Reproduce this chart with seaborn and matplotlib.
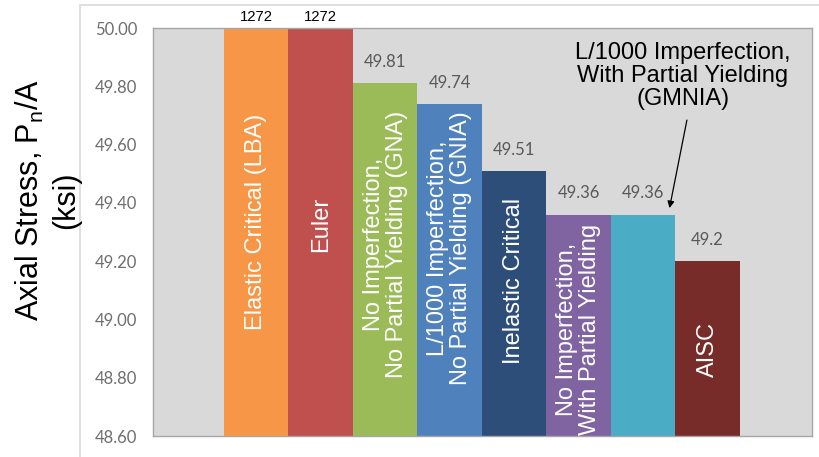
import matplotlib
matplotlib.use("Agg")
import matplotlib.pyplot as plt
import seaborn as sns
import pandas as pd
from matplotlib.patches import Rectangle

# ---- data -------------------------------------------------------------
methods = [
    "Elastic Critical (LBA)",
    "Euler",
    "No Imperfection,\nNo Partial Yielding (GNA)",
    "L/1000 Imperfection,\nNo Partial Yielding (GNIA)",
    "Inelastic Critical",
    "No Imperfection,\nWith Partial Yielding",
    "L/1000 Imperfection,\nWith Partial Yielding\n(GMNIA)",
    "AISC",
]
stress = [1272, 1272, 49.81, 49.74, 49.51, 49.36, 49.36, 49.2]
y_ticks = [48.60, 48.80, 49.00, 49.20, 49.40, 49.60, 49.80, 50.00]
y_label = "Axial Stress, P$_\\mathrm{n}$/A\n(ksi)"

# ---- styling ----------------------------------------------------------
colors = ["#F79646", "#C0504D", "#9BBB59", "#4F81BD",
          "#2E4E7A", "#8064A2", "#4BACC6", "#772C2A"]
# vertical centre of the white text written inside each bar (None -> callout)
inner_label_y = [49.336, 49.326, 49.259, 49.245, 49.133, 48.967, None, 48.898]
callout_text_xy = (6.62, 49.835)
callout_arrow_from = (6.68, 49.684)
callout_arrow_to = (6.41, 49.382)

sns.set_theme(style="white")
plt.rcParams["font.family"] = ["Liberation Sans", "DejaVu Sans"]
plt.rcParams["mathtext.fontset"] = "custom"
plt.rcParams["mathtext.rm"] = "Liberation Sans"
plt.rcParams["mathtext.it"] = "Liberation Sans:italic"

df = pd.DataFrame({"method": methods, "stress": stress})

fig = plt.figure(figsize=(8.19, 4.57), dpi=100)
fig.patch.set_facecolor("white")

# light outer frame around the chart object
fig.add_artist(Rectangle((80 / 819, -0.05), 1.0, (457 - 5) / 457 + 0.05,
                         transform=fig.transFigure, facecolor="none",
                         edgecolor="#D9D9D9", lw=1.2, zorder=0))

ax = fig.add_axes([153 / 819, 21 / 457, (812 - 153) / 819, (436 - 28) / 457])
ax.set_facecolor("#D9D9D9")

sns.barplot(data=df, x="method", y="stress", hue="method", palette=colors,
            width=1.0, saturation=1, legend=False, ax=ax, linewidth=0)

y_top = y_ticks[-1]
ax.set_ylim(y_ticks[0], y_top)
ax.set_xlim(-1.6, 8.62)
ax.set_yticks(y_ticks)
ax.set_yticklabels([f"{t:.2f}" for t in y_ticks], fontfamily="Lato",
                   fontsize=12, color="#6E6E6E")
ax.tick_params(axis="y", length=0, pad=11.5)
ax.set_xticks([])
ax.set_xlabel("")

for side in ax.spines.values():
    side.set_color("#A6A6A6")
    side.set_linewidth(1.0)
    side.set_visible(True)

ax.set_ylabel(y_label, fontsize=22, color="black", linespacing=1.25)
ax.yaxis.set_label_coords((47.5 - 153) / 659, (436 - 200) / 408)
ax.yaxis.label.set_verticalalignment("center")

# value labels above the bars
for i, v in enumerate(stress):
    txt = f"{v:g}"
    if v > y_top:
        ax.annotate(txt, (i, y_top), xytext=(0, 3), textcoords="offset points",
                    ha="center", va="bottom", fontsize=10.7, color="black",
                    annotation_clip=False)
    else:
        ax.annotate(txt, (i, v), xytext=(0, 9.5), textcoords="offset points",
                    ha="center", va="bottom", fontsize=12, fontfamily="Lato",
                    color="#595959")

# white method names written inside the bars
for i, (name, ly) in enumerate(zip(methods, inner_label_y)):
    if ly is None:
        continue
    ax.text(i, ly, name, rotation=90, ha="center", va="center",
            multialignment="center", color="white", fontsize=17,
            linespacing=1.05)

# callout for the GMNIA bar
gm = inner_label_y.index(None)
ax.text(*callout_text_xy, methods[gm], ha="center", va="center",
        multialignment="center", fontsize=17, color="black", linespacing=1.05)
ax.annotate("", xy=callout_arrow_to, xytext=callout_arrow_from,
            arrowprops=dict(arrowstyle="-|>", color="black", lw=0.9,
                            mutation_scale=10, shrinkA=0, shrinkB=0))

fig.savefig("out.png", dpi=100)
